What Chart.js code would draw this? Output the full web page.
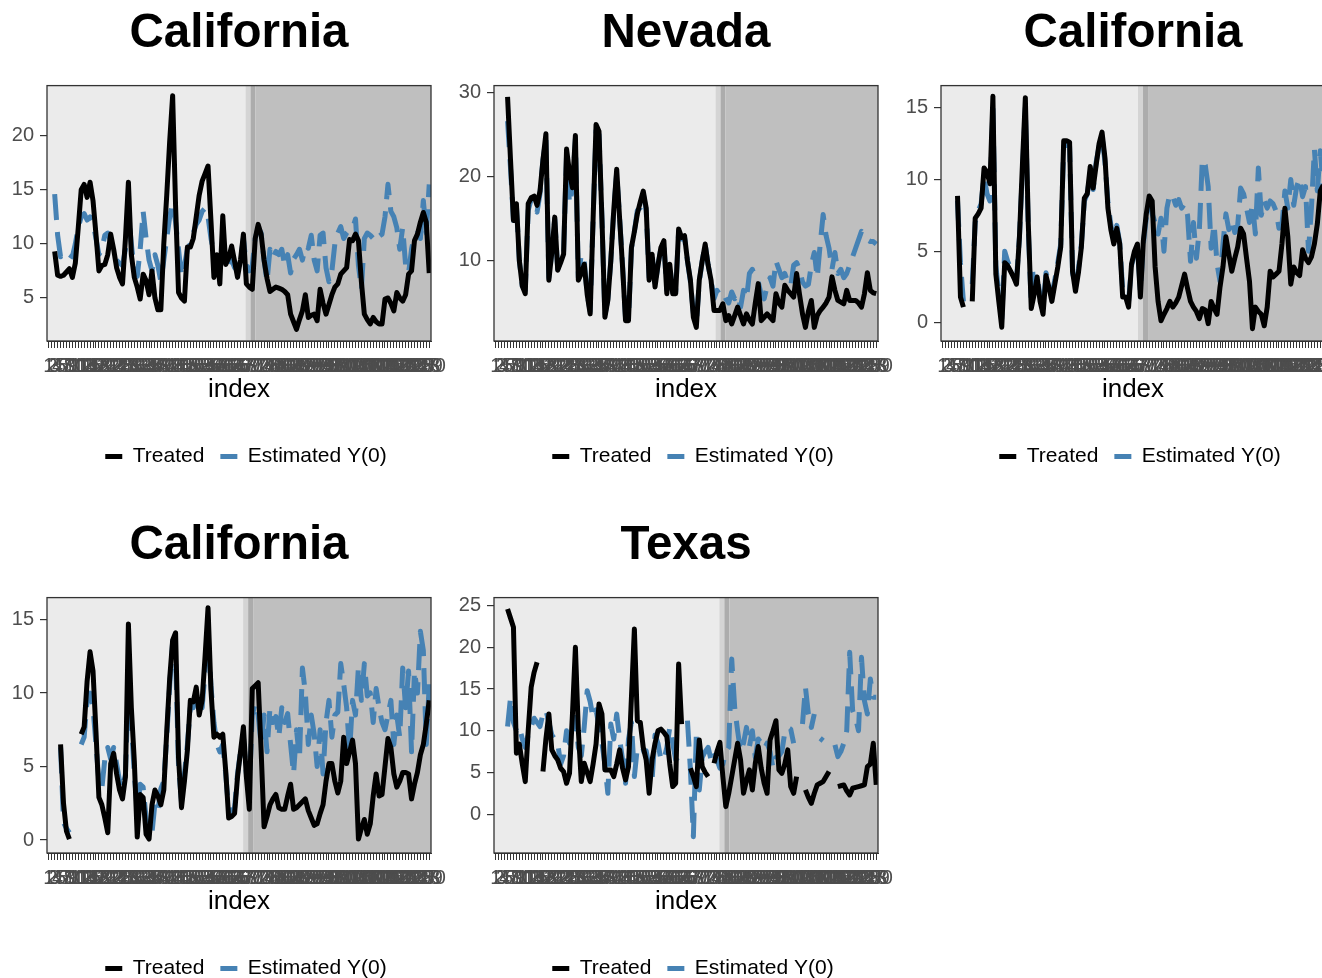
<!DOCTYPE html>
<html>
<head>
<meta charset="utf-8">
<script src="https://cdn.jsdelivr.net/npm/chart.js@4.4.1/dist/chart.umd.min.js"></script>
<style>
  html, body { margin: 0; padding: 0; background: #ffffff; }
  #wrap { position: relative; width: 1322px; height: 978px; overflow: hidden; background: #ffffff; }
  canvas { position: absolute; }
</style>
</head>
<body>
<div id="wrap"></div>
<script>
// ---------------- DATA ----------------
const panelTitles = ['California', 'Nevada', 'California', 'California', 'Texas'];
const seriesNames = ['Treated', 'Estimated Y(0)'];
const xLabels = Array.from({length: 130}, (_, i) => String(i + 1));
const treatTime = [69.4, 77.2, 68.9, 68.6, 78.5];
const yMinVals = [1.02, 0.48, -1.26, -0.88, -4.66];
const yMaxVals = [24.63, 30.83, 16.54, 16.49, 25.96];
const yTickVals = [[5, 10, 15, 20], [10, 20, 30], [0, 5, 10, 15], [0, 5, 10, 15], [0, 5, 10, 15, 20, 25]];

const treated1 = [null,null,9.3,7.1,7.0,7.1,7.4,7.7,6.9,8.2,
 11.5,15.0,15.5,14.3,15.7,14.0,10.9,7.5,8.0,8.1,
 9.0,10.9,9.5,7.8,6.9,6.3,10.5,15.7,9.0,6.9,
 6.0,4.9,7.2,6.6,5.3,7.5,5.0,3.9,3.9,10.0,
 14.5,19.5,23.7,13.5,5.5,5.0,4.7,9.7,9.7,10.5,
 12.5,14.5,15.8,16.5,17.2,12.1,6.9,9.0,6.3,12.6,
 8.1,8.7,9.8,8.4,6.9,8.5,10.9,6.3,6.0,5.8,
 10.5,11.8,10.9,8.5,6.8,5.6,5.8,6.0,5.9,5.8,
 5.6,5.3,3.5,2.8,2.1,3.0,3.8,5.3,3.2,3.4,
 3.5,2.9,5.8,4.5,3.5,4.4,5.3,6.0,6.3,7.2,
 7.5,7.8,10.4,10.3,10.9,10.3,6.5,3.5,3.0,2.6,
 3.2,2.8,2.6,2.6,4.9,5.0,4.5,3.8,5.5,5.0,
 4.7,5.3,7.2,7.5,10.3,10.9,12.0,12.9,12.0,7.3];
const estimated1 = [null,null,14.6,10.8,8.8,9.2,9.3,9.0,8.8,10.0,
 11.5,12.5,12.8,12.2,12.5,12.0,10.5,9.0,9.5,10.8,
 11.0,10.2,9.0,8.5,8.2,8.0,9.5,12.8,10.0,7.5,
 7.0,9.5,13.0,10.5,8.5,7.5,9.0,8.0,6.5,8.5,
 10.5,12.5,13.8,12.0,9.5,7.0,8.0,9.5,10.0,11.0,
 11.8,12.2,13.0,13.3,12.5,10.5,9.0,8.5,8.5,9.5,
 8.5,8.0,8.5,7.8,7.5,8.5,10.5,8.0,7.5,8.0,
 10.5,11.5,11.0,8.5,6.5,9.5,8.7,9.3,9.0,9.5,
 8.0,9.0,7.3,8.6,9.0,9.5,8.5,9.8,9.6,10.8,
 8.5,7.5,10.8,11.0,7.8,6.5,7.5,10.0,11.0,11.6,
 10.5,11.0,11.3,11.4,12.3,8.0,5.8,10.5,11.0,10.8,
 10.5,11.0,10.7,10.9,12.5,15.5,13.0,12.5,11.5,9.5,
 11.5,8.0,7.3,9.5,10.8,11.0,10.5,14.0,11.0,15.5];

const treated2 = [null,null,null,null,29.5,22.0,14.8,16.8,10.0,7.0,
 6.1,16.8,17.5,17.7,16.6,18.3,22.0,25.1,7.7,11.0,
 15.2,8.9,9.8,10.8,23.3,20.5,18.7,24.9,7.7,8.5,
 9.6,6.0,3.7,15.0,26.2,25.4,15.0,3.3,5.3,10.0,
 16.0,20.9,15.0,9.2,2.9,2.9,11.6,13.5,15.6,17.0,
 18.3,16.3,7.7,10.8,6.9,9.5,11.6,12.4,6.1,9.6,
 6.1,6.1,13.8,12.8,13.0,10.0,7.7,3.3,2.1,7.7,
 10.0,12.0,9.5,7.7,4.1,4.1,4.1,4.9,2.9,3.5,
 2.5,3.5,4.5,3.5,2.5,3.7,3.0,2.5,5.0,7.3,
 2.9,3.3,3.7,3.3,2.9,6.1,5.0,4.5,7.1,6.5,
 6.1,5.7,8.5,6.0,3.7,2.1,4.0,5.3,2.1,3.5,
 4.1,4.5,5.0,5.7,8.1,6.5,5.3,5.1,4.9,6.5,
 5.3,5.3,5.3,5.0,4.5,6.1,8.6,6.5,6.2,6.1];
const estimated2 = [null,null,null,null,26.6,21.0,14.8,16.5,10.0,7.0,
 6.5,16.0,17.3,16.2,15.8,18.0,22.0,24.5,8.0,11.0,
 15.0,9.0,10.0,11.0,22.5,16.8,18.5,24.5,8.0,10.8,
 10.0,6.0,4.0,15.0,25.5,25.0,15.0,3.5,5.5,10.0,
 16.0,20.5,15.0,9.5,3.2,3.0,11.5,13.5,16.0,16.3,
 18.0,16.0,8.0,10.8,7.0,9.5,11.5,12.0,6.5,9.5,
 6.3,6.3,13.5,12.6,12.8,10.0,7.5,3.8,2.5,7.5,
 10.0,12.0,9.5,7.7,5.5,6.5,6.0,6.3,5.5,5.0,
 6.3,5.5,6.0,4.5,6.5,5.5,8.5,9.0,8.0,7.5,
 6.0,5.5,7.0,8.0,7.0,10.0,9.0,8.0,8.5,7.5,
 7.0,9.5,9.8,9.0,7.5,7.0,7.2,9.5,11.0,8.0,
 12.0,15.5,13.0,11.5,9.0,11.0,8.5,9.0,8.0,8.5,
 9.5,10.5,11.5,12.5,13.5,13.0,12.5,12.3,12.3,12.0];

const treated3 = [null,null,null,null,null,8.85,1.8,1.1,null,null,
 1.5,7.3,7.6,8.0,10.8,10.5,9.7,15.8,3.4,1.5,
 -0.3,4.2,4.0,3.6,3.2,2.7,6.0,11.0,15.7,6.9,
 1.0,2.0,3.2,1.5,0.6,3.3,2.5,1.5,2.7,3.9,
 5.3,12.7,12.7,12.6,3.6,2.2,3.5,5.3,8.7,9.0,
 10.9,9.4,11.0,12.5,13.3,11.5,8.0,6.5,5.5,6.6,
 5.5,1.8,1.8,1.1,4.1,5.0,5.5,1.8,5.7,7.6,
 8.85,8.5,3.9,1.5,0.15,0.6,1.0,1.5,1.1,1.4,
 1.8,2.6,3.4,2.4,1.5,1.1,0.8,0.3,1.0,0.9,
 -0.05,1.5,1.0,0.6,2.5,3.9,6.0,4.8,3.6,4.5,
 5.3,6.6,6.2,4.5,2.9,-0.4,1.1,0.8,0.6,-0.2,
 1.1,3.6,3.2,3.4,3.6,5.5,8.0,6.0,2.7,3.9,
 3.5,3.3,5.1,4.5,4.2,4.6,5.5,6.9,9.2,9.6];
const estimated3 = [null,null,null,null,null,8.5,4.2,1.5,null,null,
 2.7,7.0,7.8,8.3,10.2,9.0,8.5,15.0,4.0,2.0,
 0.3,5.0,4.3,3.8,3.2,3.0,6.0,10.5,15.0,6.5,
 1.3,3.4,3.4,1.8,1.0,3.5,2.8,2.0,3.0,4.2,
 5.5,12.3,12.4,12.3,3.5,2.5,3.8,5.5,8.5,9.0,
 10.5,9.3,11.2,12.3,13.0,11.2,8.4,6.8,5.8,6.8,
 5.6,2.3,2.0,1.5,4.0,4.8,5.3,2.2,5.5,7.3,
 8.5,7.6,7.0,6.2,7.3,5.0,8.0,9.0,8.8,8.2,
 8.6,8.0,8.3,7.5,4.3,7.0,4.5,6.5,11.4,11.0,
 9.5,5.2,6.9,4.1,2.9,5.5,7.6,6.5,7.2,6.3,
 6.8,9.4,9.0,8.0,7.0,8.3,6.2,10.8,7.5,8.5,
 8.0,8.5,8.3,7.8,6.6,6.8,9.2,8.0,10.0,8.2,
 9.5,10.1,8.8,9.5,5.0,8.0,12.1,9.2,12.0,9.5];

const treated4 = [null,null,null,null,6.5,2.5,0.6,0.07,null,null,
 null,7.2,7.7,10.8,12.8,11.5,7.4,2.9,2.4,1.5,
 0.5,5.2,5.9,4.5,3.4,2.8,4.3,14.7,9.0,5.4,
 0.2,3.1,2.9,0.4,0.07,2.4,3.4,3.0,2.4,3.4,
 7.4,11.0,13.6,14.1,5.6,2.2,4.0,6.1,9.5,9.4,
 10.4,8.5,9.5,12.5,15.8,10.2,7.0,7.2,7.0,7.2,
 4.7,1.5,1.6,1.8,4.3,6.0,7.7,4.3,2.1,10.3,
 10.5,10.7,6.1,0.9,1.6,2.4,2.8,3.1,2.2,2.1,
 2.1,3.0,3.8,2.1,2.2,2.4,2.6,2.8,2.0,1.5,
 1.0,1.1,1.8,2.4,4.0,5.2,5.2,4.0,3.2,4.0,
 7.0,5.2,6.0,6.8,5.2,0.07,0.8,1.4,0.4,1.1,
 3.0,4.5,3.0,3.1,5.0,6.9,6.3,4.5,3.6,4.0,
 4.6,4.6,4.5,2.8,3.8,4.6,5.8,6.5,7.9,9.5];
const estimated4 = [null,null,null,null,6.3,1.2,0.8,0.5,null,null,
 null,6.5,7.0,9.5,10.0,9.0,6.5,4.0,3.5,5.5,
 6.3,5.5,6.3,5.2,4.0,3.5,4.5,10.5,8.0,4.5,
 2.0,3.8,3.6,1.5,0.4,0.5,2.5,2.0,3.5,4.0,
 7.0,10.5,13.5,12.5,5.0,2.6,4.5,6.5,9.0,9.0,
 10.0,9.0,9.0,11.5,14.0,10.5,8.0,6.5,6.0,6.5,
 4.5,2.0,2.0,2.2,4.5,6.0,7.0,4.5,3.5,8.5,
 9.3,8.5,6.5,8.5,6.0,9.0,8.0,8.4,7.0,9.0,
 8.0,8.6,6.5,4.5,7.5,5.5,11.7,10.0,6.5,8.5,
 7.2,5.0,7.5,4.5,8.0,9.5,7.0,8.5,8.7,12.0,
 10.6,9.0,6.0,9.5,8.5,11.8,9.5,12.0,9.8,10.0,
 8.0,10.3,9.0,8.0,7.5,8.5,9.5,6.5,8.5,7.0,
 11.7,9.0,11.5,6.0,11.5,10.0,14.2,12.9,6.5,10.6];

const treated5 = [null,null,null,null,24.6,23.5,22.4,7.3,8.4,6.0,
 3.9,10.0,15.2,17.0,18.2,null,5.1,9.0,12.0,7.7,
 7.0,6.5,5.5,5.1,3.7,4.9,12.0,20.0,10.0,3.9,
 6.1,5.0,3.9,6.0,8.4,13.2,12.0,5.3,5.3,5.3,
 4.5,6.0,7.7,5.5,4.1,5.7,14.0,22.2,11.2,11.0,
 8.0,6.5,2.5,6.5,8.5,10.0,10.2,9.8,9.3,6.0,
 3.3,3.7,18.0,10.8,null,null,5.5,4.5,3.3,8.9,
 5.7,5.0,4.5,null,6.1,7.5,8.6,4.5,0.9,2.5,
 4.5,6.5,8.5,6.5,2.5,4.0,5.3,2.9,6.1,8.1,
 5.5,3.7,2.5,8.9,10.0,11.2,5.3,4.9,6.0,7.7,
 3.3,2.5,4.5,null,null,2.9,2.0,1.3,2.5,3.5,
 3.7,3.9,4.5,5.1,null,null,3.3,3.4,3.5,2.8,
 2.3,3.1,3.2,3.3,3.4,3.5,5.7,6.0,8.5,3.5];
const estimated5 = [null,null,null,null,10.5,14.0,11.0,10.0,10.5,9.0,
 8.0,9.5,10.5,11.5,11.0,10.5,12.0,12.5,11.0,9.5,
 9.0,8.5,6.0,7.0,10.0,8.5,9.0,11.6,8.0,7.0,
 10.5,14.8,13.5,11.5,12.5,10.5,8.5,6.0,2.5,10.8,
 9.0,12.0,9.0,6.5,3.7,9.0,11.0,4.5,8.0,7.5,
 7.6,7.6,5.5,4.1,9.5,8.5,6.5,6.5,8.0,10.4,
 8.5,6.5,6.9,7.0,null,11.2,5.3,-2.7,9.6,2.9,
 6.8,7.5,8.0,6.5,7.5,6.5,5.5,6.0,7.5,8.0,
 18.6,12.8,10.0,7.5,8.5,10.4,8.1,10.0,6.8,9.0,
 8.5,7.8,8.5,7.5,5.5,6.8,7.0,7.5,9.8,10.4,
 10.2,8.5,null,null,10.8,15.2,12.0,10.4,12.0,null,
 9.1,8.8,null,null,null,8.3,6.9,7.5,8.5,10.0,
 19.4,12.4,11.5,10.0,18.8,13.6,12.0,16.2,14.0,14.0];

const treatedSeries = [treated1, treated2, treated3, treated4, treated5];
const estimatedSeries = [estimated1, estimated2, estimated3, estimated4, estimated5];

// ---------------- RENDER ----------------
const FAMILY = "'Liberation Sans', Arial, Helvetica, sans-serif";
Chart.defaults.font.family = FAMILY;

const bandPlugin = {
  id: 'bands',
  beforeDatasetsDraw(chart, args, opts) {
    const {ctx, chartArea: a, scales: {x}} = chart;
    const t = opts.t;
    const p1 = x.getPixelForValue(t - 1.7);
    const p2 = x.getPixelForValue(t);
    const p3 = x.getPixelForValue(t + 1.7);
    ctx.save();
    const f = (l, r, c) => { ctx.fillStyle = c; ctx.fillRect(l, a.top, r - l, a.bottom - a.top); };
    f(a.left, p1, '#ebebeb');
    f(p1, p2, '#d4d4d4');
    f(p2, p3, '#acacac');
    f(p3, a.right, '#bfbfbf');
    ctx.restore();
  },
  afterDatasetsDraw(chart) {
    const {ctx, chartArea: a} = chart;
    ctx.save();
    ctx.strokeStyle = '#333333';
    ctx.lineWidth = 1.3;
    ctx.strokeRect(a.left, a.top, a.right - a.left, a.bottom - a.top);
    ctx.restore();
  }
};

const wrap = document.getElementById('wrap');
const positions = [[0, 0], [447, 0], [894, 0], [0, 512], [447, 512]];

panelTitles.forEach((title, k) => {
  const cv = document.createElement('canvas');
  cv.width = 492; cv.height = 512;
  cv.style.left = positions[k][0] + 'px';
  cv.style.top = positions[k][1] + 'px';
  cv.style.width = '492px'; cv.style.height = '512px';
  wrap.appendChild(cv);
  const ticksY = yTickVals[k];
  new Chart(cv.getContext('2d'), {
    type: 'line',
    data: {
      labels: xLabels.map((_, i) => i + 1),
      datasets: [
        { label: seriesNames[0], data: treatedSeries[k], borderColor: '#000000', backgroundColor: '#000000',
          borderWidth: 5, pointRadius: 0, tension: 0, borderJoinStyle: 'round', borderCapStyle: 'butt',
          spanGaps: false, fill: false },
        { label: seriesNames[1], data: estimatedSeries[k], borderColor: '#4682b4', backgroundColor: '#4682b4',
          borderWidth: 5, borderDash: [26, 12], pointRadius: 0, tension: 0, borderJoinStyle: 'round',
          borderCapStyle: 'butt', spanGaps: false, fill: false }
      ]
    },
    options: {
      responsive: false,
      animation: false,
      devicePixelRatio: 1,
      layout: { padding: { left: 0, right: 0, top: 0, bottom: 35 } },
      scales: {
        x: {
          type: 'linear', min: 0.4, max: 130.6,
          afterBuildTicks: s => { s.ticks = xLabels.map((_, i) => ({ value: i + 1 })); },
          afterFit: s => { s.height = 89; },
          ticks: { autoSkip: false, maxRotation: 0, minRotation: 0, padding: 6, color: '#4d4d4d',
                   font: { size: 20 }, callback: (v, i) => xLabels[i] },
          grid: { drawOnChartArea: false, drawTicks: true, tickLength: 7, color: '#333333', lineWidth: 1 },
          border: { display: true, color: '#333333', width: 1 },
          title: { display: true, text: 'index', color: '#000000', font: { size: 26 }, padding: { top: 0, bottom: 25 } }
        },
        y: {
          type: 'linear', position: 'left', min: yMinVals[k], max: yMaxVals[k],
          afterBuildTicks: s => { s.ticks = ticksY.map(v => ({ value: v })); },
          afterFit: s => { s.width = 47; },
          ticks: { color: '#4d4d4d', font: { size: 20 }, padding: 6 },
          grid: { drawOnChartArea: false, drawTicks: true, tickLength: 7, color: '#333333', lineWidth: 1.2 },
          border: { display: true, color: '#333333', width: 1 }
        },
        yR: {
          type: 'linear', position: 'right', display: true,
          grid: { display: false, drawTicks: false }, border: { display: false },
          ticks: { display: false },
          afterFit: s => { s.width = 61; }
        }
      },
      plugins: {
        bands: { t: treatTime[k] },
        title: { display: true, text: title, fullSize: false, color: '#000000',
                 font: { size: 47.5, weight: 'bold' }, padding: { top: 5, bottom: 23.6 } },
        legend: {
          display: true, position: 'bottom', fullSize: true, align: 'center',
          labels: {
            boxWidth: 17, boxHeight: 5, padding: 16, color: '#000000', font: { size: 21 },
            generateLabels: chart => chart.data.datasets.map((d, i) => ({
              text: d.label, fillStyle: d.borderColor, strokeStyle: d.borderColor, lineWidth: 0,
              hidden: false, datasetIndex: i, fontColor: '#000000'
            }))
          }
        },
        tooltip: { enabled: false }
      }
    },
    plugins: [bandPlugin]
  });
});
</script>
</body>
</html>
